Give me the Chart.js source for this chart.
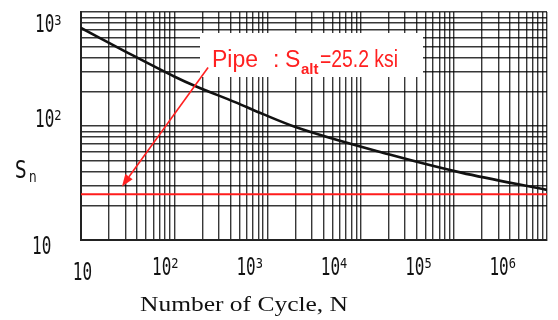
<!DOCTYPE html>
<html><head><meta charset="utf-8">
<script src="https://cdn.jsdelivr.net/npm/chart.js@4.4.1/dist/chart.umd.min.js"></script>
<style>html,body{margin:0;padding:0;background:#fff;overflow:hidden}#wrap{width:558px;height:320px;position:relative}</style>
</head><body><div id="wrap"><canvas id="c" width="558" height="320"></canvas></div>
<script>
// ---- data ----
const cycles   = [10, 30, 100, 170, 450, 900, 2000, 20000, 120000, 1000000];
const stressSn = [725, 450, 272, 223, 162, 127, 98, 56.5, 39, 27.5];
const pipeAltStress = 25.2;
const xRange = [10, 1000000];
const yRange = [10, 1000];
const xTickValues = [10, 100, 1000, 10000, 100000, 1000000];
const xTickBases = ['10', '10', '10', '10', '10', '10'];
const xTickExponents = ['', '2', '3', '4', '5', '6'];
const yTickValues = [1000, 100, 10];
const yTickBases = ['10', '10', '10'];
const yTickExponents = ['3', '2', ''];
const arrowN = [231, 27.5];   // tail, head
const arrowS = [326, 29.5];
const annotationParts = ['Pipe', ':', 'S', 'alt', '=25.2 ksi'];
const xTitle = 'Number of Cycle, N';
const yTitleParts = ['S', 'n'];

function logGrid(min, max) {
  const out = [];
  for (let e = Math.floor(Math.log10(min)); e <= Math.ceil(Math.log10(max)); e++) {
    for (let m = 1; m <= 9; m++) {
      const v = m * Math.pow(10, e);
      if (v >= min - 1e-9 && v <= max + 1e-9) out.push(v);
    }
  }
  return out;
}

function scaledText(ctx, text, x, y, font, sx, sy, maxW) {
  ctx.save();
  ctx.translate(x, y);
  ctx.scale(sx, sy);
  ctx.font = font;
  if (maxW) ctx.fillText(text, 0, 0, maxW); else ctx.fillText(text, 0, 0);
  ctx.restore();
}

const deco = {
  id: 'deco',
  beforeDatasetsDraw(chart) {
    const {ctx, chartArea: a} = chart;
    ctx.save();
    ctx.fillStyle = '#fff';
    ctx.fillRect(a.left + 119, a.top + 21, 223, 44);
    ctx.restore();
  },
  afterDatasetsDraw(chart) {
    const {ctx, scales: {x, y}} = chart;
    const x0 = x.getPixelForValue(arrowN[0]), y0 = y.getPixelForValue(arrowS[0]);
    const x1 = x.getPixelForValue(arrowN[1]), y1 = y.getPixelForValue(arrowS[1]);
    ctx.save();
    ctx.strokeStyle = '#ff2020'; ctx.fillStyle = '#ff2020'; ctx.lineWidth = 1.6;
    const ang = Math.atan2(y1 - y0, x1 - x0), L = 12, W = 4.5;
    const bx = x1 - L * Math.cos(ang), by = y1 - L * Math.sin(ang);
    ctx.beginPath(); ctx.moveTo(x0, y0); ctx.lineTo(bx, by); ctx.stroke();
    ctx.beginPath();
    ctx.moveTo(x1, y1);
    ctx.lineTo(bx + W * Math.sin(ang), by - W * Math.cos(ang));
    ctx.lineTo(bx - W * Math.sin(ang), by + W * Math.cos(ang));
    ctx.closePath(); ctx.fill();
    // annotation text
    const a = chart.chartArea;
    const bl = a.top + 55;
    ctx.textBaseline = 'alphabetic';
    const f = '23px "Liberation Sans"';
    scaledText(ctx, annotationParts[0], a.left + 131, bl, f, 1, 1);
    scaledText(ctx, annotationParts[1], a.left + 192, bl, f, 1, 1);
    scaledText(ctx, annotationParts[2], a.left + 204, bl, f, 1, 1);
    scaledText(ctx, annotationParts[3], a.left + 220, bl + 7, 'bold 15px "Liberation Sans"', 1, 1, 20);
    scaledText(ctx, annotationParts[4], a.left + 239, bl, f, 1, 1, 78);
    ctx.restore();
  },
  afterDraw(chart) {
    const {ctx, chartArea: a, scales: {x, y}} = chart;
    ctx.save();
    ctx.fillStyle = '#111';
    ctx.textBaseline = 'alphabetic';
    const mainF = '16px "DejaVu Sans Mono"', supF = '12px "DejaVu Sans Mono"';
    function label(base, exp, cx, baseline, centered) {
      ctx.font = mainF;
      const wb = ctx.measureText(base).width;
      ctx.font = supF;
      const we = exp ? ctx.measureText(exp).width : 0;
      const left = centered ? cx - (wb + we) / 2 : cx;
      scaledText(ctx, base, left, baseline, mainF, 1, 1.5);
      if (exp) scaledText(ctx, exp, left + wb, baseline - 7.5, supF, 1, 1.15);
    }
    xTickValues.forEach((v, i) => {
      const px = x.getPixelForValue(v);
      const cx = a.left + (px - a.left) * 0.905 + (i === 0 ? 1.5 : 0);
      label(xTickBases[i], xTickExponents[i], cx, a.bottom + (i === 0 ? 40 : 35), true);
    });
    const yOff = [20, 1, 14];
    yTickValues.forEach((v, i) => {
      const py = y.getPixelForValue(v);
      label(yTickBases[i], yTickExponents[i], i === 2 ? 32 : 35, py + yOff[i], false);
    });
    // y title
    scaledText(ctx, yTitleParts[0], 15, 178, '18px "DejaVu Sans"', 1, 1.35);
    scaledText(ctx, yTitleParts[1], 29, 182, '12px "DejaVu Sans"', 1, 1.3);
    // x title
    ctx.font = '21px "Liberation Serif"';
    const w = ctx.measureText(xTitle).width;
    scaledText(ctx, xTitle, 140, 311, '21px "Liberation Serif"', 208 / w, 1);
    ctx.restore();
  }
};

const gridOpts = {color: 'rgba(0,0,0,0.78)', lineWidth: 1.4, drawTicks: false};

new Chart(document.getElementById('c'), {
  type: 'line',
  data: {
    datasets: [
      {data: cycles.map((n, i) => ({x: n, y: stressSn[i]})), borderColor: '#111', borderWidth: 2.6,
       pointRadius: 0, cubicInterpolationMode: 'monotone'},
      {data: [{x: xRange[0], y: pipeAltStress}, {x: xRange[1], y: pipeAltStress}], borderColor: '#ff1c1c',
       borderWidth: 2.2, pointRadius: 0}
    ]
  },
  options: {
    responsive: false, animation: false, events: [],
    layout: {padding: {top: 12, right: 11, left: 0, bottom: 0}},
    plugins: {legend: {display: false}, tooltip: {enabled: false}},
    scales: {
      x: {type: 'logarithmic', min: xRange[0], max: xRange[1],
          afterBuildTicks: s => { s.ticks = logGrid(xRange[0], xRange[1]).map(v => ({value: v})); },
          afterFit: s => { s.height = 80; },
          ticks: {display: false}, grid: gridOpts,
          border: {display: true, color: '#222', width: 2}},
      y: {type: 'logarithmic', min: yRange[0], max: yRange[1],
          afterBuildTicks: s => { s.ticks = logGrid(yRange[0], yRange[1]).map(v => ({value: v})); },
          afterFit: s => { s.width = 81; },
          ticks: {display: false}, grid: gridOpts,
          border: {display: true, color: '#222', width: 2}}
    }
  },
  plugins: [deco]
});
</script>
</body></html>
